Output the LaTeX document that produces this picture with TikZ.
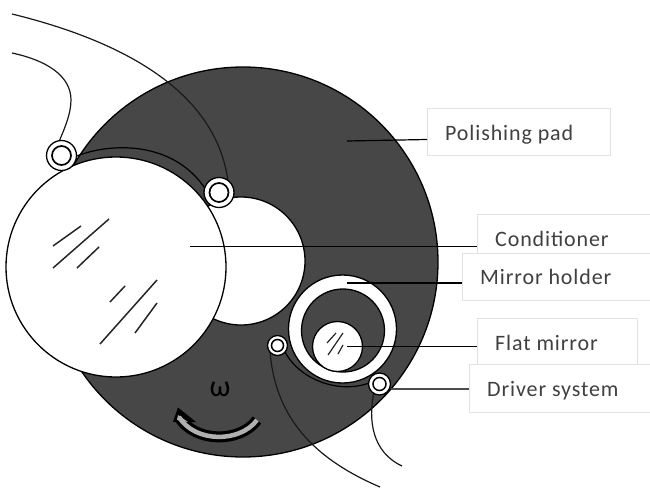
\documentclass[tikz,border=0pt]{standalone}
\usepackage{fontspec}
\setmainfont[LetterSpace=4]{Carlito}
\newfontfamily\omegafont{Carlito}
\definecolor{pad}{HTML}{474747}
\definecolor{boxline}{HTML}{E2E2E2}
\definecolor{labeltext}{HTML}{404040}
\definecolor{arrowgrey}{HTML}{B0B0B0}
\tikzset{
  disc/.style={circle,draw=black,line width=1.3pt,inner sep=0,outer sep=0,minimum size=#1},
  lab/.style={draw=boxline,line width=1pt,fill=white,inner sep=0,outer sep=0,anchor=north west},
  labtext/.style={text=labeltext,font=\fontsize{22}{26}\selectfont,anchor=base west,inner sep=0},
  wire/.style={draw=black!90,line width=1.2pt},
  lead/.style={draw=black,line width=1.2pt},
  hatch/.style={line width=1.5pt,draw=black!85},
}
\begin{document}
\begin{tikzpicture}[x=1pt,y=-1pt]
\useasboundingbox (0,0) rectangle (650,489);
% pad and its hole
\node[disc=390pt,fill=pad] (pad) at (243,262) {};
\node[disc=128pt,fill=white] (hole) at (241,261) {};
\node[disc=220pt,fill=white] (cond) at (116,267) {};
% holder
\node[disc=108pt,fill=white] (holder) at (342.5,329) {};
\node[disc=83pt,fill=pad] (holderin) at (343,330.5) {};
\node[disc=50pt,fill=white] (mirror) at (337.5,346.5) {};
% mirror hatch
\draw[hatch,line width=1.2pt] (327,343)--(336,333) (328,355)--(343,333) (338,354)--(343,345);
% conditioner hatch
\draw[hatch] (53,246)--(81,226) (53,268)--(109,219) (77,268)--(99,247)
  (110,302)--(125,286) (100,344)--(157,280) (135,333)--(157,303);
% label boxes
\node[lab,minimum width=183pt,minimum height=47pt] (lpad) at (427,109) {};
\node[lab,minimum width=175pt,minimum height=50pt] (lcond) at (477,214) {};
\node[lab,minimum width=190pt,minimum height=47pt] (lhold) at (462,253) {};
\node[lab,minimum width=160pt,minimum height=47pt] (lflat) at (477,318) {};
\node[lab,minimum width=183pt,minimum height=48pt] (ldrv) at (469,364) {};
\node[labtext] (tpad) at (445,140.5) {Polishing pad};
\node[labtext] (tcond) at (495,246) {Conditioner};
\node[labtext] (thold) at (480,284) {Mirror holder};
\node[labtext] (tflat) at (495,350) {Flat mirror};
\node[labtext] (tdrv) at (487,396.5) {Driver system};
% leaders
\coordinate (apad) at (347,141);
\coordinate (acond) at (190,246.5);
\coordinate (ahold) at (347,283);
\coordinate (aflat) at (347,346.5);
\draw[lead] (apad) -- (lpad.west |- 0,139.5);
\draw[lead] (acond) -- (lcond.west |- acond);
\draw[lead] (ahold) -- (lhold.west |- ahold);
\draw[lead] (aflat) -- (lflat.west |- aflat);
% wires
\coordinate (w1) at (12,14); \coordinate (w2) at (12,53);
\coordinate (w3) at (380,487); \coordinate (w4) at (402,466);
\coordinate (r2top) at (228,181);
\coordinate (r1top) at (58,144);
\coordinate (r1arm) at (72,158);
\coordinate (r2arm) at (206,190);
\coordinate (r3foot) at (270,352);
\coordinate (r3arm) at (285,352);
\coordinate (r4arm) at (372,382);
\coordinate (r4foot) at (374,392);
\draw[wire] (w1) .. controls (110,38) and (215,85) .. (r2top);
\draw[wire] (w2) .. controls (45,60) and (71,75) .. (71,100) .. controls (71,115) and (63,132) .. (r1top);
\draw[lead] (r1arm) .. controls (110,141) and (175,141) .. (r2arm);
\draw[wire] (r3foot) .. controls (275,410) and (305,455) .. (w3);
\draw[lead] (r3arm) .. controls (300,380) and (340,395) .. (r4arm);
\draw[wire] (r4foot) .. controls (368,420) and (372,452) .. (w4);
% rings
\node[disc=30pt,fill=white] (r1) at (61.5,155.5) {};
\node[disc=19pt,fill=white,line width=1.7pt] (r1b) at (61.5,155.5) {};
\node[disc=30pt,fill=white] (r2) at (219,192.5) {};
\node[disc=19pt,fill=white,line width=1.7pt] (r2b) at (219,192.5) {};
\node[disc=20pt,fill=white] (r3) at (277.5,345.5) {};
\node[disc=12pt,fill=white,line width=1.5pt] (r3b) at (277.5,345.5) {};
\node[disc=22pt,fill=white] (r4) at (379.5,384) {};
\node[disc=13pt,fill=white,line width=1.5pt] (r4b) at (379.5,384) {};
\draw[draw=black!70,line width=1.2pt] (r4.east |- 0,389) -- (ldrv.west |- 0,389);
% rotation arrow
\coordinate (arcA) at (179,417);
\coordinate (arcB) at (257,420);
\draw[black,line width=11pt] (arcA) .. controls (195,443) and (240,443) .. (arcB);
\fill[black] (178,407.5) -- (173,422) -- (196,422) -- cycle;
\fill[arrowgrey] (178,415) -- (177,420) -- (188,422) -- cycle;
\draw[arrowgrey,line width=4.5pt] (arcA) .. controls (195,443) and (240,443) .. (arcB);
\node[font=\omegafont\fontsize{30}{30}\selectfont,text=black,inner sep=0,anchor=base] (om) at (220,396) {ω};
\end{tikzpicture}
\end{document}
